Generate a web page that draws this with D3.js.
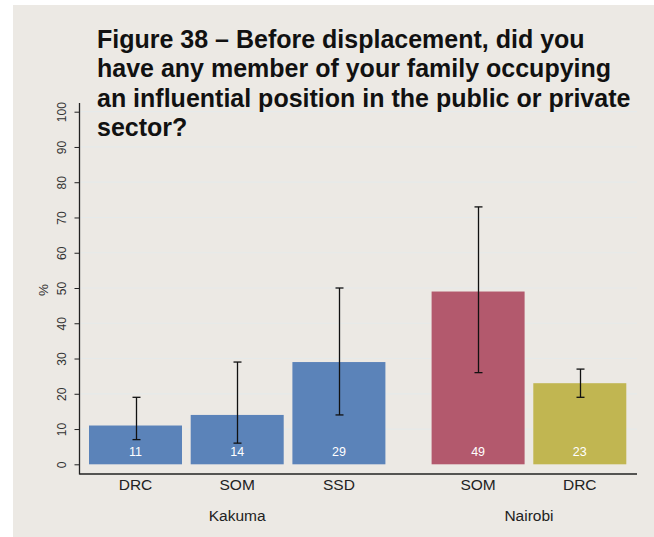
<!DOCTYPE html>
<html>
<head>
<meta charset="utf-8">
<script src="https://cdn.jsdelivr.net/npm/d3@7"></script>
<style>
  html, body { margin: 0; padding: 0; background: #ffffff; }
  svg { display: block; }
</style>
</head>
<body>
<svg id="chart" width="654" height="537"></svg>
<script>
// Survey result: share with a family member in an influential position, by camp and nationality
const groups = ["Kakuma", "Kakuma", "Kakuma", "Nairobi", "Nairobi"];
const nationalities = ["DRC", "SOM", "SSD", "SOM", "DRC"];
const values = [11, 14, 29, 49, 23];
const ciLow = [7, 6, 14, 26, 19];
const ciHigh = [19, 29, 50, 73, 27];
const barColors = ["#5b83b9", "#5b83b9", "#5b83b9", "#b3596d", "#c1b651"];
const yTicks = [0, 10, 20, 30, 40, 50, 60, 70, 80, 90, 100];
const titleLines = [
  "Figure 38 – Before displacement, did you",
  "have any member of your family occupying",
  "an influential position in the public or private",
  "sector?"
];

const svg = d3.select("#chart");
const W = 654, H = 537;
const FONT = "'Liberation Sans', Arial, sans-serif";

// panel background
svg.append("rect").attr("x", 13).attr("y", 5).attr("width", W - 13).attr("height", H - 5)
  .attr("fill", "#ece9e4");

const plot = { left: 79.5, right: 637, top: 103, bottom: 474 };

const y = d3.scaleLinear().domain([0, 100]).range([464.3, 111.7]);

const keys = nationalities.map((n, i) => groups[i] + "-" + n);
const x = d3.scaleBand().domain(keys).range([89 - 4.35, 89 - 4.35 + 5 * 101.7])
  .paddingInner(0.0855).paddingOuter(0.0428);
const groupGap = 37.5;
const xPos = (i) => x(keys[i]) + (groups[i] === "Nairobi" ? groupGap : 0);

// grid lines
svg.append("g").selectAll("line").data(yTicks.filter(t => t > 0)).join("line")
  .attr("x1", plot.left + 1).attr("x2", plot.right)
  .attr("y1", d => y(d)).attr("y2", d => y(d))
  .attr("stroke", "#e6eaea").attr("stroke-width", 1.2);

// y axis with rotated tick labels
const yAxis = d3.axisLeft(y).tickValues(yTicks).tickSize(5).tickPadding(4);
const gy = svg.append("g").attr("transform", `translate(${plot.left},0)`).call(yAxis);
gy.select(".domain").remove();
gy.selectAll(".tick line").attr("stroke", "#222").attr("stroke-width", 1);
gy.selectAll(".tick text")
  .attr("font-family", FONT)
  .attr("font-size", 12).attr("fill", "#333")
  .attr("text-anchor", "middle")
  .attr("x", 0).attr("y", 0).attr("dy", "0")
  .attr("transform", "translate(-13.5,0) rotate(-90)");

svg.append("line").attr("x1", plot.left).attr("x2", plot.left)
  .attr("y1", plot.top).attr("y2", plot.bottom + 0.5)
  .attr("stroke", "#222").attr("stroke-width", 1.3);
svg.append("line").attr("x1", plot.left).attr("x2", plot.right)
  .attr("y1", plot.bottom).attr("y2", plot.bottom)
  .attr("stroke", "#222").attr("stroke-width", 1.3);

svg.append("text").text("%")
  .attr("transform", "translate(48,290) rotate(-90)")
  .attr("text-anchor", "middle")
  .attr("font-family", FONT)
  .attr("font-size", 13.5).attr("fill", "#333");

// bars
svg.append("g").selectAll("rect").data(values).join("rect")
  .attr("x", (d, i) => xPos(i)).attr("width", x.bandwidth())
  .attr("y", d => y(d)).attr("height", d => y(0) - y(d))
  .attr("fill", (d, i) => barColors[i]);

// value labels
svg.append("g").selectAll("text").data(values).join("text")
  .text(d => d)
  .attr("x", (d, i) => xPos(i) + x.bandwidth() / 2)
  .attr("y", 455.5)
  .attr("text-anchor", "middle")
  .attr("font-family", FONT)
  .attr("font-size", 12.5).attr("fill", "#ffffff");

// error bars
const eb = svg.append("g").attr("stroke", "#111").attr("stroke-width", 1.3);
values.forEach((v, i) => {
  const cx = Math.round(xPos(i) + x.bandwidth() / 2) + 0.5;
  eb.append("line").attr("x1", cx).attr("x2", cx).attr("y1", y(ciLow[i])).attr("y2", y(ciHigh[i]));
  [ciLow[i], ciHigh[i]].forEach(c => {
    eb.append("line").attr("x1", cx - 4).attr("x2", cx + 4).attr("y1", y(c)).attr("y2", y(c));
  });
});

// category labels
svg.append("g").selectAll("text").data(nationalities).join("text")
  .text(d => d)
  .attr("x", (d, i) => xPos(i) + x.bandwidth() / 2)
  .attr("y", 490)
  .attr("text-anchor", "middle")
  .attr("font-family", FONT)
  .attr("font-size", 15.5).attr("fill", "#222");

// group labels
const groupNames = Array.from(new Set(groups));
svg.append("g").selectAll("text").data(groupNames).join("text")
  .text(d => d)
  .attr("x", g => {
    const idx = groups.map((gg, i) => gg === g ? i : -1).filter(i => i >= 0);
    const a = xPos(idx[0]), b = xPos(idx[idx.length - 1]) + x.bandwidth();
    return (a + b) / 2;
  })
  .attr("y", 521)
  .attr("text-anchor", "middle")
  .attr("font-family", FONT)
  .attr("font-size", 15.5).attr("fill", "#222");

// title: sized so the first line spans 488px
const title = svg.append("g")
  .attr("font-family", FONT)
  .attr("font-weight", "bold")
  .attr("fill", "#111");
const tLines = title.selectAll("text").data(titleLines).join("text")
  .text(d => d)
  .attr("x", 97)
  .attr("y", (d, i) => 48 + i * 29.3)
  .attr("font-size", 24);
const w0 = tLines.node().getComputedTextLength();
const fs = Math.min(24 * 488 / w0, 25);
tLines.attr("font-size", fs);
</script>
</body>
</html>
